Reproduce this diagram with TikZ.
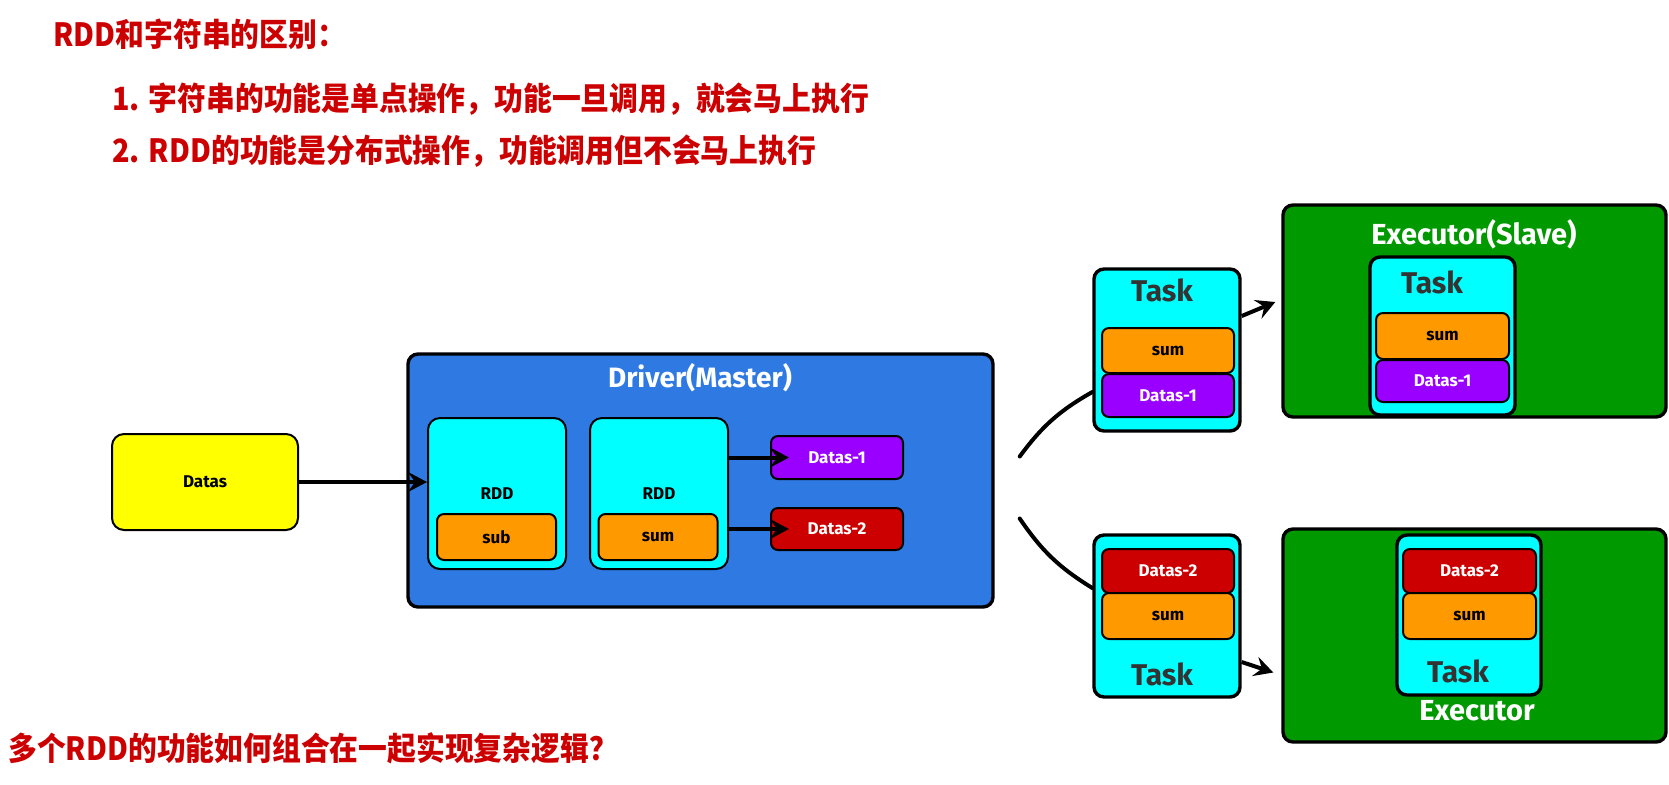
\documentclass[tikz,border=0pt]{standalone}
\usepackage{fontspec}
\setmainfont{Fira Sans}
\newfontfamily\cjk{Noto Sans CJK SC}[FakeStretch=0.9]
\usetikzlibrary{arrows.meta}

\begin{document}
\begin{tikzpicture}[x=0.5pt, y=-0.5pt, font=\bfseries,
    every node/.style={inner sep=0pt},
    frame/.style={draw=black, line width=1.7pt, rounded corners=5pt},
    cell/.style={draw=black, line width=1pt, rounded corners=3.5pt,
      font=\fontsize{8.5}{10}\selectfont\bfseries},
    title/.style={text=white, font=\fontsize{14.5}{17}\selectfont\bfseries},
    tasklabel/.style={text=taskGray, font=\fontsize{15}{18}\selectfont\bfseries},
    note/.style={anchor=west, text=hintRed, font=\cjk\bfseries\fontsize{16}{19}\selectfont},
    arr/.style={line width=2pt, -{Stealth[length=9.5pt,width=10pt,inset=3.5pt]}},
    link/.style={line width=2pt, line cap=round}]
    % Colours approximated from the reference
    \definecolor{datasYellow}{RGB}{255,255,0}
    \definecolor{driverBlue}{RGB}{46,122,226}
    \definecolor{rddCyan}{RGB}{0,255,255}
    \definecolor{opOrange}{RGB}{255,153,0}
    \definecolor{dataPurple}{RGB}{153,0,255}
    \definecolor{dataRed}{RGB}{204,0,0}
    \definecolor{exeGreen}{RGB}{0,153,0}
    \definecolor{hintRed}{RGB}{204,0,0}
    \definecolor{taskGray}{RGB}{51,51,51}

    % Coordinates are pixels of the 1669x784 canvas (y grows downwards)
    \useasboundingbox (0,0) rectangle (1669,784);

    % Notes
    \node[note] (noteTitle) at (53,34)  {RDD和字符串的区别：};
    \node[note] (noteOne)   at (112,99) {1. 字符串的功能是单点操作，功能一旦调用，就会马上执行};
    \node[note] (noteTwo)   at (112,151) {2. RDD的功能是分布式操作，功能调用但不会马上执行};
    \node[note] (noteQuest) at (8,748)  {多个RDD的功能如何组合在一起实现复杂逻辑？};

    % Input data
    \node[cell, fill=datasYellow, rounded corners=6pt, minimum width=93pt, minimum height=48pt]
      (datas) at (205,482) {Datas};

    % Driver with its two RDDs
    \node[frame, fill=driverBlue, minimum width=292.5pt, minimum height=126.5pt]
      (driver) at (700.5,480.5) {};
    \node[title, font=\fontsize{14}{17}\selectfont\bfseries] (driverTitle) at (700,378) {Driver(Master)};

    \node[cell, fill=rddCyan, rounded corners=6pt, minimum width=69pt, minimum height=75.5pt]
      (rddA) at (497,493.5) {RDD};
    \node[cell, fill=opOrange, minimum width=59.5pt, minimum height=23pt] (subA) at (496.5,537) {sub};
    \node[cell, fill=rddCyan, rounded corners=6pt, minimum width=69pt, minimum height=75.5pt]
      (rddB) at (659,493.5) {RDD};
    \node[cell, fill=opOrange, minimum width=59.5pt, minimum height=23pt] (sumB) at (658,537) {sum};

    \node[cell, fill=dataPurple, text=white, minimum width=66pt, minimum height=21.5pt]
      (dOne) at (837,457.5) {Datas-1};
    \node[cell, fill=dataRed, text=white, minimum width=66pt, minimum height=21pt]
      (dTwo) at (837,529) {Datas-2};

    % Upper task and executor
    \node[frame, fill=rddCyan, minimum width=73pt, minimum height=81pt] (taskA) at (1167,350) {};
    \node[tasklabel] (taskLabelA) at (1162,290) {Task};
    \node[cell, fill=opOrange, minimum width=66pt, minimum height=22.5pt] (sumC) at (1168,350.5) {sum};
    \node[cell, fill=dataPurple, text=white, minimum width=66pt, minimum height=21.5pt]
      (dOneC) at (1168,395.5) {Datas-1};

    \node[frame, fill=exeGreen, minimum width=191.5pt, minimum height=106pt] (exeA) at (1474.5,311) {};
    \node[title] (exeTitleA) at (1474,234) {Executor(Slave)};
    \node[frame, fill=rddCyan, minimum width=72.5pt, minimum height=79pt] (taskB) at (1442.5,336) {};
    \node[tasklabel] (taskLabelB) at (1432,282) {Task};
    \node[cell, fill=opOrange, minimum width=66.5pt, minimum height=23pt] (sumD) at (1442.5,336) {sum};
    \node[cell, fill=dataPurple, text=white, minimum width=66.5pt, minimum height=21pt]
      (dOneD) at (1442.5,381) {Datas-1};

    % Lower task and executor
    \node[frame, fill=rddCyan, minimum width=73pt, minimum height=81pt] (taskC) at (1167,616) {};
    \node[cell, fill=dataRed, text=white, minimum width=66pt, minimum height=22pt]
      (dTwoC) at (1168,571) {Datas-2};
    \node[cell, fill=opOrange, minimum width=66pt, minimum height=23pt] (sumE) at (1168,616) {sum};
    \node[tasklabel] (taskLabelC) at (1162,674) {Task};

    \node[frame, fill=exeGreen, minimum width=191.5pt, minimum height=106.5pt] (exeB) at (1474.5,635.5) {};
    \node[frame, fill=rddCyan, minimum width=72pt, minimum height=80pt] (taskD) at (1469,615) {};
    \node[cell, fill=dataRed, text=white, minimum width=66.5pt, minimum height=22pt]
      (dTwoD) at (1469.5,571) {Datas-2};
    \node[cell, fill=opOrange, minimum width=66.5pt, minimum height=23pt] (sumF) at (1469.5,616) {sum};
    \node[tasklabel] (taskLabelD) at (1458,671) {Task};
    \node[title] (exeTitleB) at (1477,711) {Executor};

    % Connectors
    \draw[arr, line width=1.8pt] (datas.east) -- (datas.east -| rddA.west);
    \draw[arr] (rddB.east |- dOne.west) -- ([xshift=9.5pt]dOne.west);
    \draw[arr] (rddB.east |- dTwo.west) -- ([xshift=9.5pt]dTwo.west);
    \draw[link] ([xshift=12.5pt,yshift=12pt]driver.east) to[bend left=12] ([yshift=-21pt]taskA.west);
    \draw[link] ([xshift=12.5pt,yshift=-19pt]driver.east) to[bend right=12] ([yshift=14pt]taskC.west);
    \draw[arr] ([yshift=17pt]taskA.east) -- ([xshift=-3pt,yshift=4.5pt]exeA.west);
    \draw[arr] ([yshift=-23pt]taskC.east) -- ([xshift=-4pt,yshift=-18.5pt]exeB.west);
  \end{tikzpicture}
\end{document}
